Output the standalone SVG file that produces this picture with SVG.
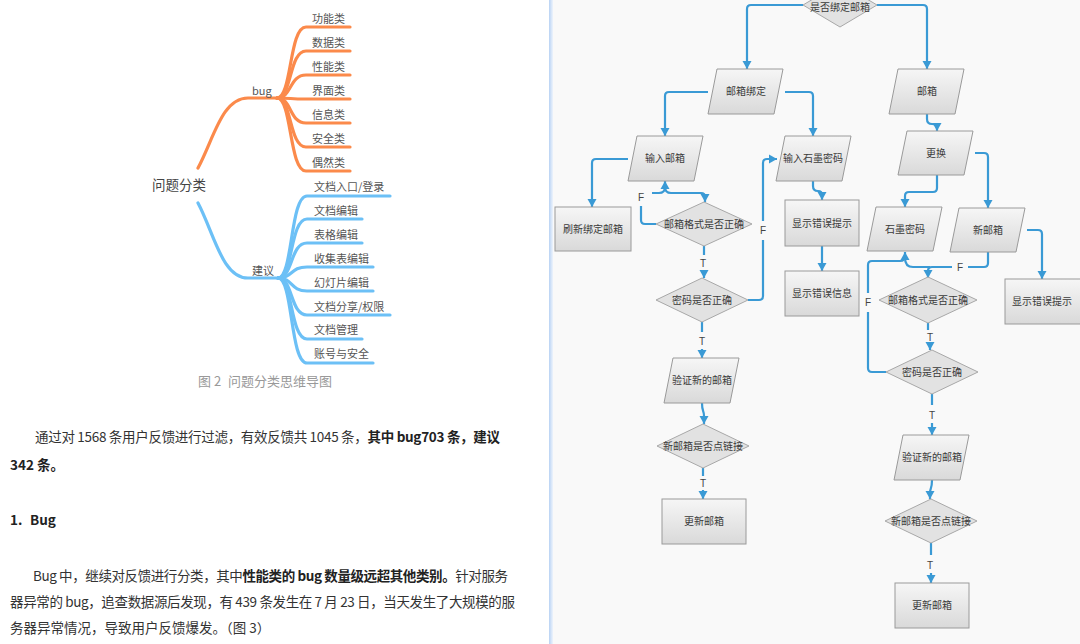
<svg xmlns="http://www.w3.org/2000/svg" width="1080" height="644" viewBox="0 0 1080 644">
<defs>
<style>
.mm{fill:none;stroke-width:3.2;stroke-linecap:round;stroke-linejoin:round}
.or{stroke:#fb8a4b}
.bl{stroke:#6cc0f6}
.mt{font-family:"Noto Sans CJK SC","Liberation Sans",sans-serif;font-size:11px;fill:#555}
.pt{font-family:"Noto Sans CJK SC","Liberation Sans",sans-serif;font-size:13.5px;fill:#333}
.b{font-weight:bold;fill:#222}
.shape{fill:url(#g);stroke:#9a9a9a;stroke-width:1}
.dia{fill:#e2e2e2;stroke:#a8a8a8;stroke-width:1}
.ft{font-family:"Noto Sans CJK SC","Liberation Sans",sans-serif;font-size:10px;fill:#3a3a3a;text-anchor:middle}
.lb{font-family:"Liberation Sans",sans-serif;font-size:10px;fill:#444;text-anchor:middle}
.c{fill:none;stroke:#3a9ad5;stroke-width:2.2;stroke-linejoin:round}
.a{marker-end:url(#arr)}
</style>
<linearGradient id="g" x1="0" y1="0" x2="0" y2="1">
<stop offset="0" stop-color="#f6f6f6"/>
<stop offset="1" stop-color="#d9d9d9"/>
</linearGradient>
<linearGradient id="dv" x1="0" y1="0" x2="1" y2="0">
<stop offset="0" stop-color="#b8d2f4"/>
<stop offset="1" stop-color="#eef4fc"/>
</linearGradient>
<marker id="arr" markerUnits="userSpaceOnUse" viewBox="0 0 10 10" refX="9" refY="5" markerWidth="10" markerHeight="10" orient="auto">
<path d="M1,0.5 L9,5 L1,9.5 Z" fill="#3a9ad5"/>
</marker>
</defs>

<rect x="0" y="0" width="1080" height="644" fill="#ffffff"/>
<rect x="553" y="0" width="527" height="644" fill="#f9f9f9"/>
<rect x="549" y="0" width="4" height="644" fill="url(#dv)"/>

<!-- Mind map -->
<g id="mindmap">
<g id="mm-lines-bug">
<path class="mm or" d="M198 168 C214 138 222 98 248 98 H277"/>
<path class="mm or" d="M277 98 C292 98 289 27 306 27 H350"/>
<path class="mm or" d="M277 98 C292 98 289 51 306 51 H350"/>
<path class="mm or" d="M277 98 C292 98 289 75 306 75 H350"/>
<path class="mm or" d="M277 98 C292 98 289 99 306 99 H350"/>
<path class="mm or" d="M277 98 C292 98 289 123 306 123 H350"/>
<path class="mm or" d="M277 98 C292 98 289 147 306 147 H350"/>
<path class="mm or" d="M277 98 C292 98 289 171 306 171 H350"/>
</g>
<g id="mm-lines-sug">
<path class="mm bl" d="M198 203 C214 233 222 278 248 278 H278"/>
<path class="mm bl" d="M278 278 C293 278 290 196 307 196 H390"/>
<path class="mm bl" d="M278 278 C293 278 290 219 307 219 H362"/>
<path class="mm bl" d="M278 278 C293 278 290 243 307 243 H362"/>
<path class="mm bl" d="M278 278 C293 278 290 267 307 267 H373"/>
<path class="mm bl" d="M278 278 C293 278 290 291 307 291 H373"/>
<path class="mm bl" d="M278 278 C293 278 290 315 307 315 H390"/>
<path class="mm bl" d="M278 278 C293 278 290 339 307 339 H362"/>
<path class="mm bl" d="M278 278 C293 278 290 363 307 363 H373"/>
</g>
<text x="152" y="190" class="mt" style="font-size:13.5px;fill:#444">问题分类</text>
<text x="252" y="95" class="mt">bug</text>
<text x="252" y="275" class="mt">建议</text>
<text x="312" y="23" class="mt">功能类</text>
<text x="312" y="47" class="mt">数据类</text>
<text x="312" y="71" class="mt">性能类</text>
<text x="312" y="95" class="mt">界面类</text>
<text x="312" y="119" class="mt">信息类</text>
<text x="312" y="143" class="mt">安全类</text>
<text x="312" y="167" class="mt">偶然类</text>
<text x="314" y="191" class="mt">文档入口/登录</text>
<text x="314" y="215" class="mt">文档编辑</text>
<text x="314" y="239" class="mt">表格编辑</text>
<text x="314" y="263" class="mt">收集表编辑</text>
<text x="314" y="287" class="mt">幻灯片编辑</text>
<text x="314" y="311" class="mt">文档分享/权限</text>
<text x="314" y="334" class="mt">文档管理</text>
<text x="314" y="358" class="mt">账号与安全</text>
<text x="198" y="386" class="mt" style="font-size:13px;fill:#999">图 2<tspan x="228">问题分类思维导图</tspan></text>
</g>

<!-- Paragraph text -->
<g id="para">
<text x="35" y="442" class="pt" textLength="465" lengthAdjust="spacing">通过对 1568 条用户反馈进行过滤，有效反馈共 1045 条，<tspan class="b">其中 bug703 条，建议</tspan></text>
<text x="10" y="470" class="pt b">342 条。</text>
<text x="10" y="525" class="pt b">1.<tspan x="30">Bug</tspan></text>
<text x="33" y="581" class="pt" textLength="475" lengthAdjust="spacing">Bug 中，继续对反馈进行分类，其中<tspan class="b">性能类的 bug 数量级远超其他类别。</tspan>针对服务</text>
<text x="10" y="607" class="pt" textLength="505" lengthAdjust="spacing">器异常的 bug，追查数据源后发现，有 439 条发生在 7 月 23 日，当天发生了大规模的服</text>
<text x="10" y="633" class="pt">务器异常情况，导致用户反馈爆发。（图 3）</text>
</g>

<!-- Connectors -->
<g id="connectors">
<path class="c a" d="M803 5 H751 Q747 5 747 9 V69"/>
<path class="c a" d="M877 5 H923 Q927 5 927 9 V69"/>
<path class="c a" d="M708 92 H669 Q665 92 665 96 V136"/>
<path class="c a" d="M785 92 H809 Q813 92 813 96 V136"/>
<path class="c a" d="M628 159 H596 Q592 159 592 163 V207"/>
<path class="c a" d="M665 187 Q665 193 671 193 H701 Q705 193 705 197 V202"/>
<path class="c" d="M656 224 H645 Q641 224 641 220 V206"/>
<path class="c a" d="M652 193 H659 Q665 193 665 187 V181"/>
<path class="c" d="M704 246 V255"/>
<path class="c a" d="M704 270 V278"/>
<path class="c" d="M748 300 H759 Q763 300 763 296 V240"/>
<path class="c a" d="M763 221 V163 Q763 159 767 159 H777"/>
<path class="c" d="M702 322 V332"/>
<path class="c a" d="M702 349 V358"/>
<path class="c a" d="M702 403 C702 412 704 410 704 416 V424"/>
<path class="c" d="M703 468 V476"/>
<path class="c a" d="M703 490 V499"/>
<path class="c a" d="M813 181 V186 Q813 191 818 191 Q822 191 822 195 V200"/>
<path class="c a" d="M822 246 V271"/>
<path class="c a" d="M927 114 V119 Q927 124 932 124 Q937 124 937 128 V131"/>
<path class="c a" d="M937 175 V188 Q937 192 933 192 H909 Q905 192 905 196 V207"/>
<path class="c a" d="M975 153 H984 Q988 153 988 157 V208"/>
<path class="c a" d="M1027 230 H1038 Q1042 230 1042 234 V279"/>
<path class="c" d="M988 252 V263 Q988 267 984 267 H968"/>
<path class="c a" d="M952 267 H932 Q928 267 928 271 V278"/>
<path class="c" d="M905 258 Q905 267 913 267 H930"/>
<path class="c" d="M886 372 H872 Q868 372 868 368 V312"/>
<path class="c a" d="M868 293 V265 Q868 261 872 261 H900 Q905 261 905 256 V252"/>
<path class="c" d="M928 323 V330"/>
<path class="c a" d="M930 343 V350"/>
<path class="c" d="M932 394 V405"/>
<path class="c a" d="M932 423 V435"/>
<path class="c a" d="M932 480 C932 489 930 488 930 493 V499"/>
<path class="c" d="M931 543 V555"/>
<path class="c a" d="M931 573 V583"/>
<text x="641" y="201" class="lb">F</text>
<text x="763" y="234" class="lb">F</text>
<text x="960" y="271" class="lb">F</text>
<text x="868" y="306" class="lb">F</text>
<text x="703" y="267" class="lb">T</text>
<text x="702" y="345" class="lb">T</text>
<text x="703" y="487" class="lb">T</text>
<text x="930" y="341" class="lb">T</text>
<text x="932" y="419" class="lb">T</text>
<text x="930" y="569" class="lb">T</text>
</g>

<!-- Nodes -->
<g id="n-bind"><polygon class="dia" points="803,5 840,-17 877,5 840,27"/><text x="840" y="11" class="ft">是否绑定邮箱</text></g>
<g id="n-mailbind"><polygon class="shape" points="717,69 783,69 774,114 708,114"/><text x="746" y="95" class="ft">邮箱绑定</text></g>
<g id="n-mail"><polygon class="shape" points="898,69 964,69 955,114 889,114"/><text x="927" y="95" class="ft">邮箱</text></g>
<g id="n-inmail"><polygon class="shape" points="637,136 703,136 694,181 628,181"/><text x="665" y="162" class="ft">输入邮箱</text></g>
<g id="n-inpwd"><polygon class="shape" points="785,136 851,136 842,181 776,181"/><text x="813" y="162" class="ft">输入石墨密码</text></g>
<g id="n-change"><polygon class="shape" points="907,131 973,131 964,175 898,175"/><text x="936" y="157" class="ft">更换</text></g>
<g id="n-pwd"><polygon class="shape" points="876,207 942,207 933,251 867,251"/><text x="905" y="233" class="ft">石墨密码</text></g>
<g id="n-newmail"><polygon class="shape" points="959,208 1025,208 1016,252 950,252"/><text x="988" y="234" class="ft">新邮箱</text></g>
<g id="n-refresh"><rect class="shape" x="555" y="207" width="76" height="44"/><text x="593" y="233" class="ft">刷新绑定邮箱</text></g>
<g id="n-err1"><rect class="shape" x="785" y="200" width="74" height="46"/><text x="822" y="227" class="ft">显示错误提示</text></g>
<g id="n-err2"><rect class="shape" x="785" y="271" width="74" height="45"/><text x="822" y="297" class="ft">显示错误信息</text></g>
<g id="n-err3"><rect class="shape" x="1005" y="279" width="76" height="45"/><text x="1042" y="305" class="ft">显示错误提示</text></g>
<g id="n-fmt-l"><polygon class="dia" points="656,224 704,202 752,224 704,246"/><text x="704" y="228" class="ft">邮箱格式是否正确</text></g>
<g id="n-pw-l"><polygon class="dia" points="656,300 702,278 748,300 702,322"/><text x="702" y="304" class="ft">密码是否正确</text></g>
<g id="n-verify-l"><polygon class="shape" points="673,358 739,358 730,403 664,403"/><text x="702" y="384" class="ft">验证新的邮箱</text></g>
<g id="n-link-l"><polygon class="dia" points="657,446 703,424 749,446 703,468"/><text x="703" y="450" class="ft">新邮箱是否点链接</text></g>
<g id="n-upd-l"><rect class="shape" x="662" y="499" width="84" height="45"/><text x="704" y="525" class="ft">更新邮箱</text></g>
<g id="n-fmt-r"><polygon class="dia" points="879,300 928,277 977,300 928,323"/><text x="928" y="304" class="ft">邮箱格式是否正确</text></g>
<g id="n-pw-r"><polygon class="dia" points="886,372 932,350 978,372 932,394"/><text x="932" y="376" class="ft">密码是否正确</text></g>
<g id="n-verify-r"><polygon class="shape" points="903,435 969,435 960,480 894,480"/><text x="932" y="461" class="ft">验证新的邮箱</text></g>
<g id="n-link-r"><polygon class="dia" points="885,521 931,499 977,521 931,543"/><text x="931" y="525" class="ft">新邮箱是否点链接</text></g>
<g id="n-upd-r"><rect class="shape" x="895" y="583" width="74" height="45"/><text x="932" y="609" class="ft">更新邮箱</text></g>
</svg>
